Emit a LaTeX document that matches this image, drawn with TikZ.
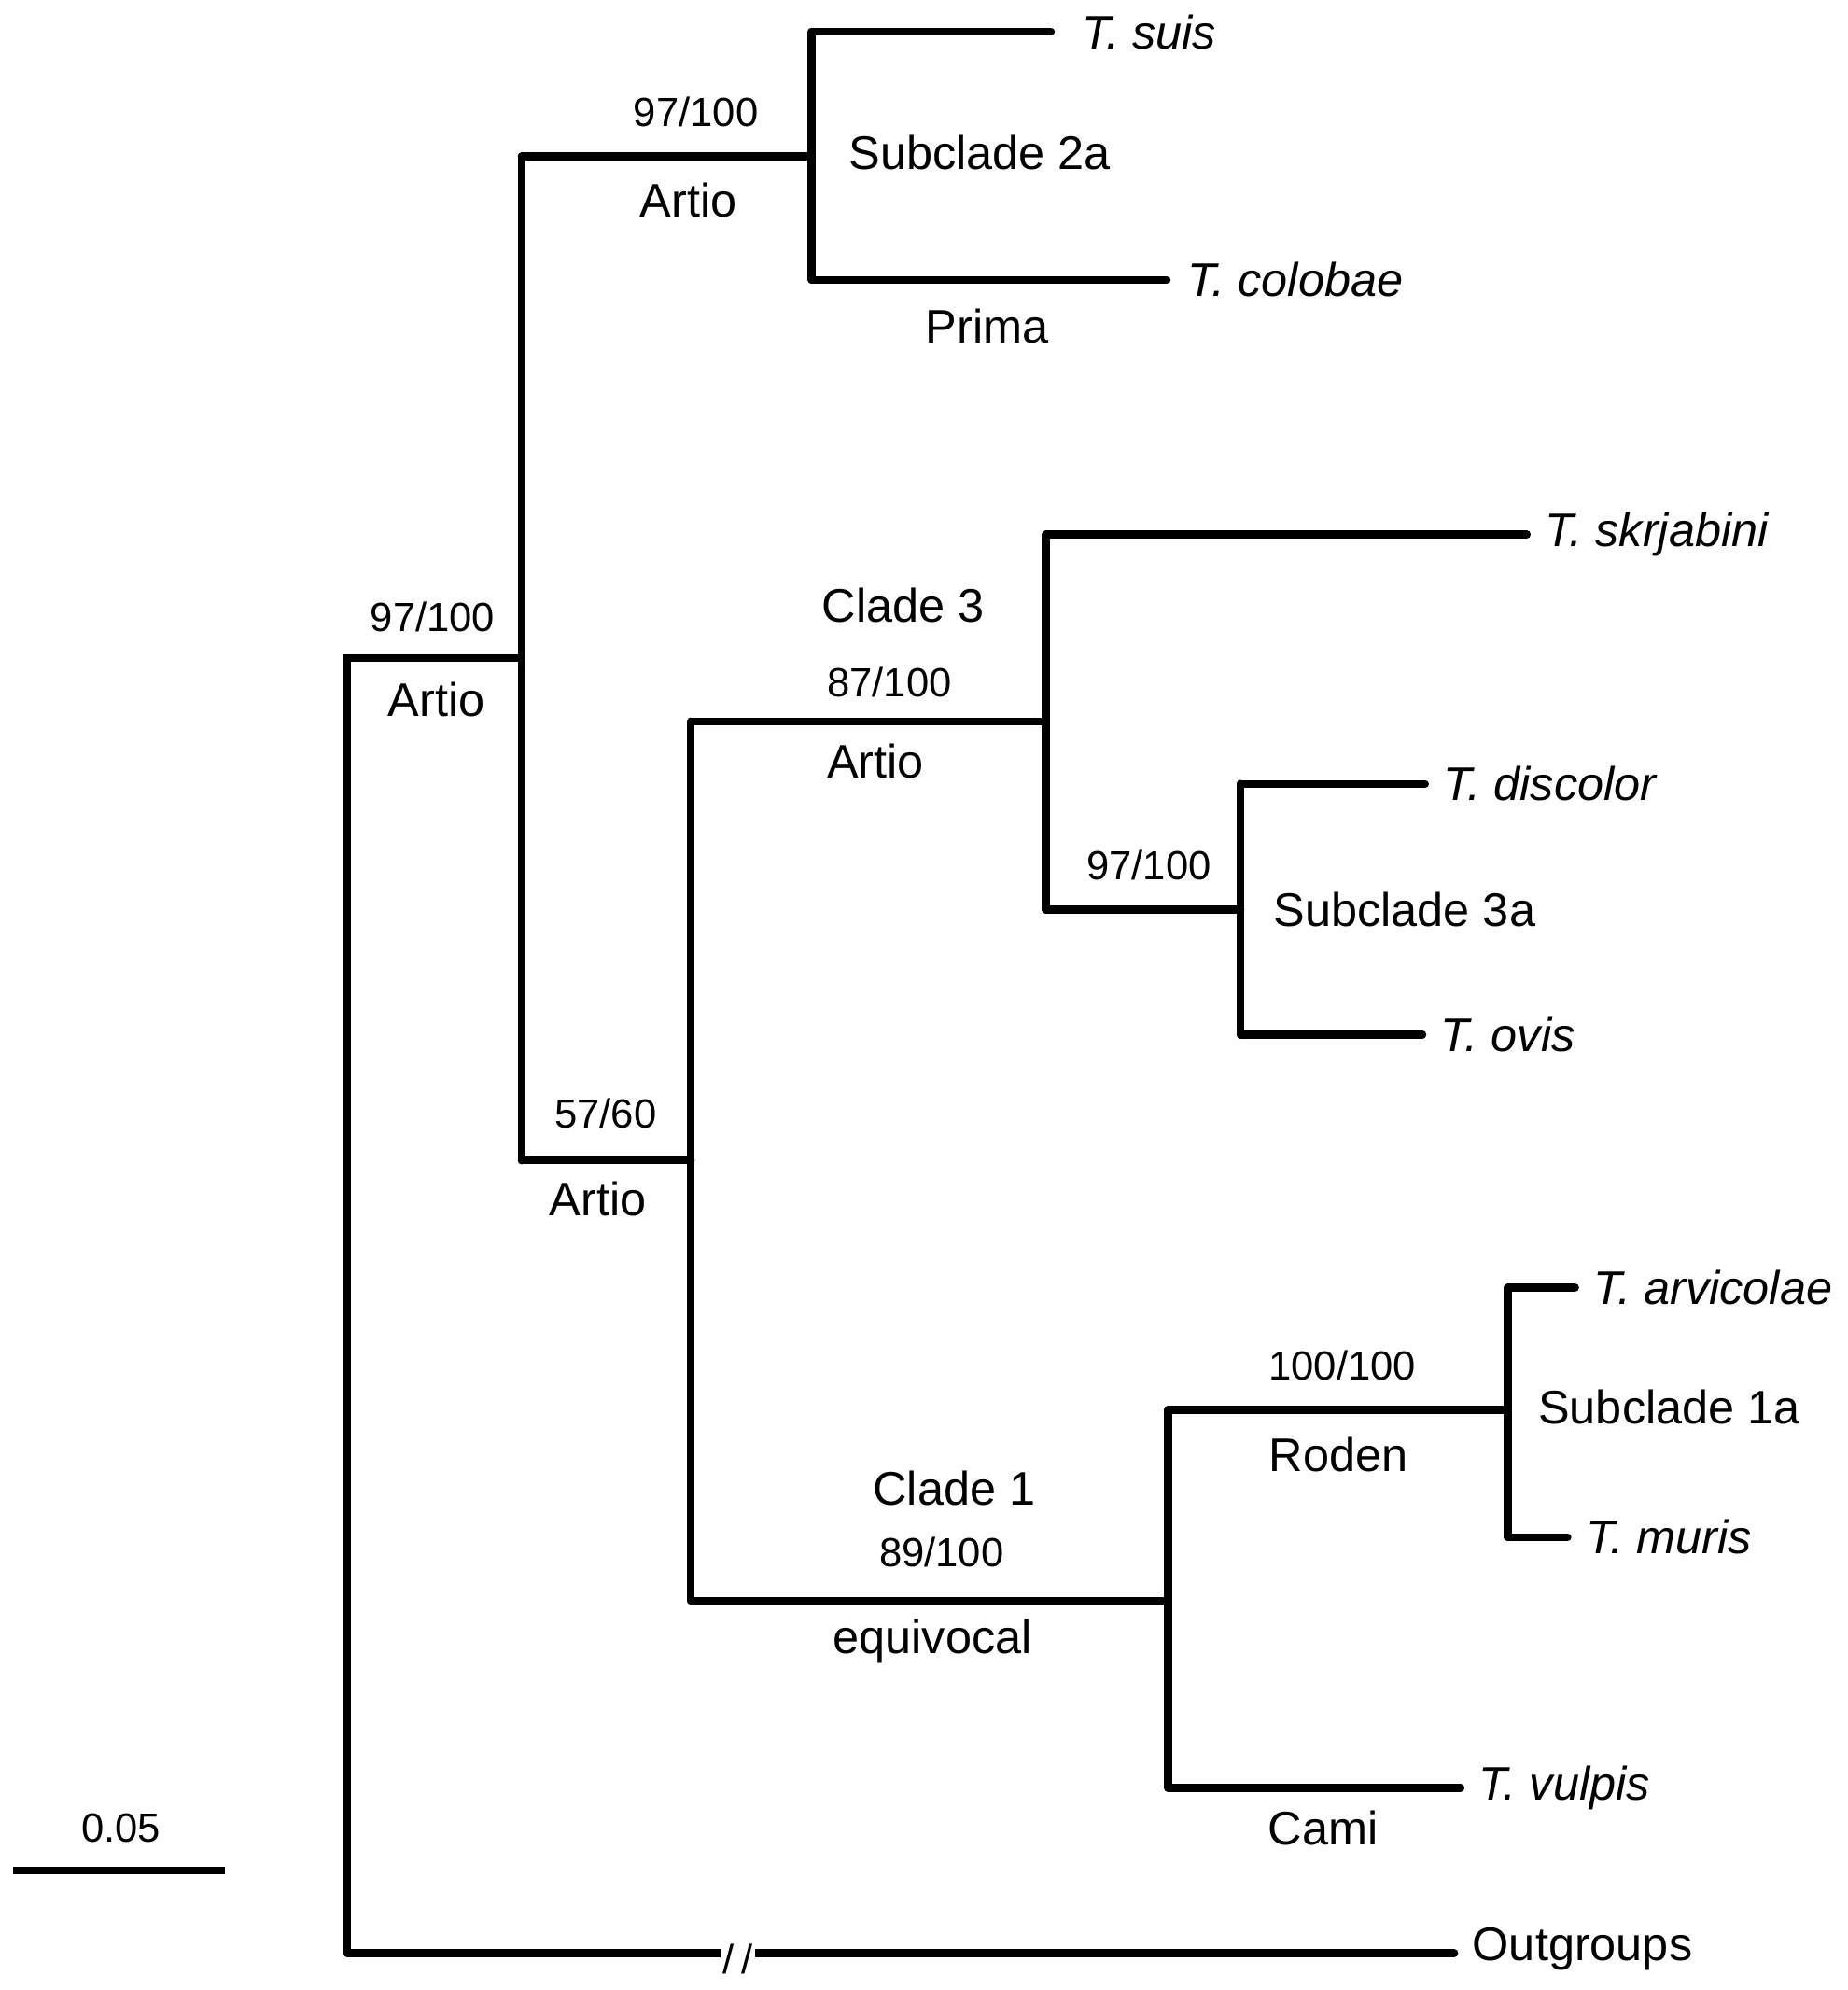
\documentclass[tikz,border=0pt]{standalone}
\usepackage{fontspec}
\setmainfont{Liberation Sans}
\begin{document}
\begin{tikzpicture}[x=0.5pt,y=-0.5pt,
  br/.style={line width=3.1pt,line cap=round},
  num/.style={font=\fontsize{16}{18}\selectfont},
  lab/.style={font=\fontsize{18.5}{21}\selectfont},
  tax/.style={font=\fontsize{18.5}{21}\selectfont\itshape,anchor=west,inner sep=0pt}]
\useasboundingbox (0,0) rectangle (1452,1564);
% internal nodes
\coordinate (R) at (273,517); \coordinate (Rb) at (273,1535);
\coordinate (A) at (410,517);
\coordinate (B) at (638,123);
\coordinate (C) at (543,912);
\coordinate (D) at (822,567);
\coordinate (E) at (975,715);
\coordinate (F) at (918,1258);
\coordinate (G) at (1185,1108);
% tips
\node[tax] (suis) at (850,25) {T. suis};
\node[tax] (colobae) at (933,220) {T. colobae};
\node[tax] (skr) at (1214,420) {T. skrjabini};
\node[tax] (disc) at (1134,616) {T. discolor};
\node[tax] (ovis) at (1132,813) {T. ovis};
\node[tax] (arv) at (1252,1012) {T. arvicolae};
\node[tax] (mur) at (1246,1208) {T. muris};
\node[tax] (vul) at (1162,1405) {T. vulpis};
\node[lab,anchor=west,inner sep=0pt] (out) at (1157,1532) {Outgroups};
% branches
\draw[br] (Rb) -- (R) -- (A);
\draw[br] (A |- B) -- (A |- C);
\draw[br] (A |- B) -- (B);
\draw[br] (B |- suis) -- (B |- colobae);
\draw[br] (B |- suis) -- ([xshift=-12pt]suis.west);
\draw[br] (B |- colobae) -- ([xshift=-8pt]colobae.west);
\draw[br] (A |- C) -- (C);
\draw[br] (C |- D) -- (C |- F);
\draw[br] (C |- D) -- (D);
\draw[br] (D |- skr) -- (D |- E);
\draw[br] (D |- skr) -- ([xshift=-7pt]skr.west);
\draw[br] (D |- E) -- (E);
\draw[br] (E |- disc) -- (E |- ovis);
\draw[br] (E |- disc) -- ([xshift=-7pt]disc.west);
\draw[br] (E |- ovis) -- ([xshift=-7pt]ovis.west);
\draw[br] (C |- F) -- (F);
\draw[br] (F |- G) -- (F |- vul);
\draw[br] (F |- G) -- (G);
\draw[br] (G |- arv) -- (G |- mur);
\draw[br] (G |- arv) -- ([xshift=-7pt]arv.west);
\draw[br] (G |- mur) -- ([xshift=-7pt]mur.west);
\draw[br] (F |- vul) -- ([xshift=-7pt]vul.west);
\draw[br] (Rb) -- ([xshift=-7pt]out.west |- Rb);
\node[num,fill=white,inner sep=1pt] (brk) at (580,1540) {/\,/};
% labels
\node[num] (l1) at (340,485) {97/100}; \node[lab] (l2) at (343,550) {Artio};
\node[num] (l3) at (547,88) {97/100}; \node[lab] (l4) at (541,157) {Artio};
\node[lab] (l5) at (770,120) {Subclade 2a}; \node[lab] (l6) at (776,256) {Prima};
\node[num] (l7) at (476,875) {57/60}; \node[lab] (l8) at (470,942) {Artio};
\node[lab] (l9) at (710,476) {Clade 3}; \node[num] (l10) at (699,536) {87/100};
\node[lab] (l11) at (688,598) {Artio};
\node[num] (l12) at (903,680) {97/100}; \node[lab] (l13) at (1104,715) {Subclade 3a};
\node[lab] (l14) at (750,1170) {Clade 1}; \node[num] (l15) at (740,1220) {89/100};
\node[lab] (l16) at (733,1290) {equivocal};
\node[num] (l17) at (1055,1073) {100/100}; \node[lab] (l18) at (1052,1143) {Roden};
\node[lab] (l19) at (1312,1106) {Subclade 1a}; \node[lab] (l20) at (1040,1437) {Cami};
% scale bar
\coordinate (s1) at (10,1470); \coordinate (s2) at (177,1470);
\draw[br,line cap=butt] (s1) -- (s2);
\node[num] (sc) at (95,1437) {0.05};
\end{tikzpicture}
\end{document}
